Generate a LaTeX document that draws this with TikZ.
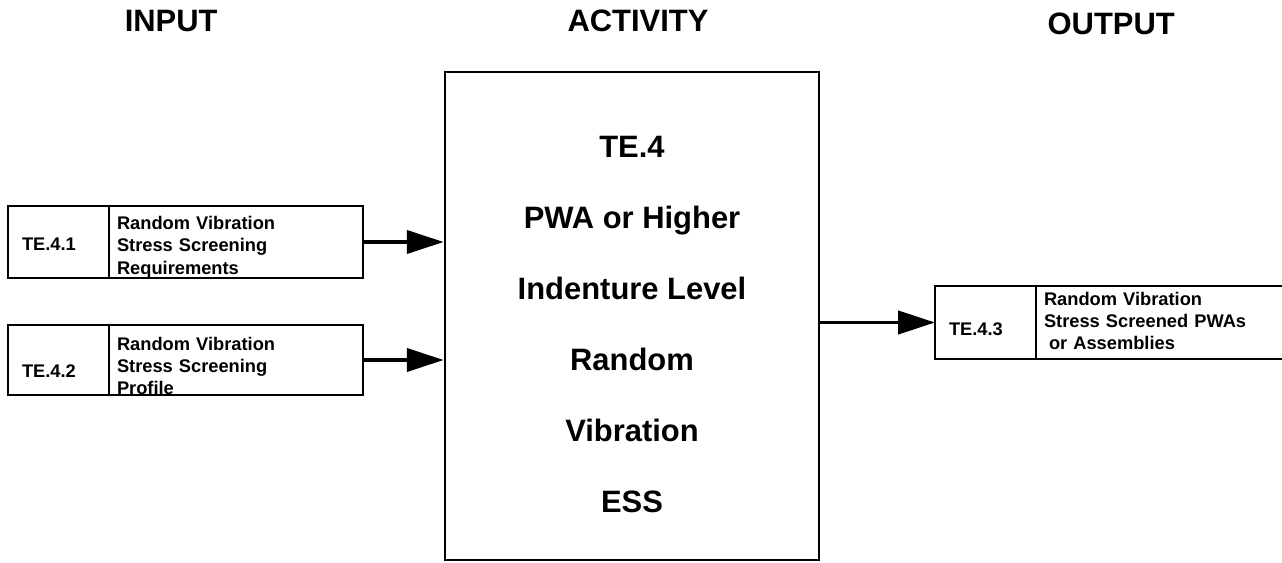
\documentclass[tikz,border=0pt]{standalone}
\usepackage{fontspec}
\setmainfont{Liberation Sans}
\usepackage{xcolor}
\usetikzlibrary{arrows.meta, positioning}
\definecolor{flowInk}{RGB}{0,0,0}

\begin{document}
\begin{tikzpicture}[
    head/.style={anchor=base, inner sep=0pt, font=\fontsize{22pt}{26pt}\selectfont\bfseries},
    idcell/.style={draw=flowInk, line width=2pt, outer sep=0pt, minimum width=2.525cm, inner xsep=0.35cm, text width=1.825cm, align=left, text depth=0pt, font=\fontsize{13pt}{15.65pt}\selectfont\bfseries},
    desccell/.style={draw=flowInk, line width=2pt, outer sep=0pt, inner xsep=0.2cm, inner ysep=0pt, align=left, font=\fontsize{13pt}{15.65pt}\selectfont\bfseries},
    core/.style={draw=flowInk, line width=2pt, minimum width=9.35cm, minimum height=12.2cm, inner sep=0pt, align=center, font=\fontsize{22pt}{50.5pt}\selectfont\bfseries},
    arrow/.style={-{Triangle[length=0.92cm, width=0.58cm]}, line width=2.3pt, draw=flowInk}
]
    \useasboundingbox (0,0) rectangle (32.05,14.05);
    \clip (0,0) rectangle (32.05,14.05);

    \node[head] (hinput) at (4.28,13.25) {INPUT};
    \node[head] (hactivity) at (15.95,13.25) {ACTIVITY};
    \node[head] (houtput) at (27.78,13.175) {OUTPUT};

    \node[core] (activity) at (15.8,6.15) {\rule{0pt}{0.975cm}TE.4\\PWA or Higher\\Indenture Level\\Random\\Vibration\\ESS};

    \node[idcell, minimum height=1.8cm, text height=0.4cm] (in1id) at (1.4625,8.0) {TE.4.1};
    \node[desccell, text width=5.95cm, right=0pt of in1id] (in1) {\rule{0pt}{0.6cm}Random Vibration\\Stress Screening\\Requirements\rule[-0.1cm]{0pt}{0.1cm}};
    \node[idcell, minimum height=1.75cm, text height=0.85cm] (in2id) at (1.4625,5.05) {TE.4.2};
    \node[desccell, text width=5.95cm, right=0pt of in2id] (in2) {\rule{0pt}{0.625cm}Random Vibration\\Stress Screening\\Profile\rule[-0.025cm]{0pt}{0.025cm}};

    \node[idcell, minimum height=1.825cm, text height=0.625cm] (out3id) at (24.6375,5.9875) {TE.4.3};
    \node[desccell, text width=6.1cm, right=0pt of out3id] (out3) {\rule{0pt}{0.475cm}Random Vibration\\Stress Screened PWAs\\\hspace*{0.125cm}or Assemblies\rule[-0.25cm]{0pt}{0.25cm}};

    \draw[arrow] (in1) -- (in1 -| activity.west);
    \draw[arrow] (in2) -- (in2 -| activity.west);
    \draw[arrow] (activity.east |- out3id) -- (out3id);
\end{tikzpicture}
\end{document}
